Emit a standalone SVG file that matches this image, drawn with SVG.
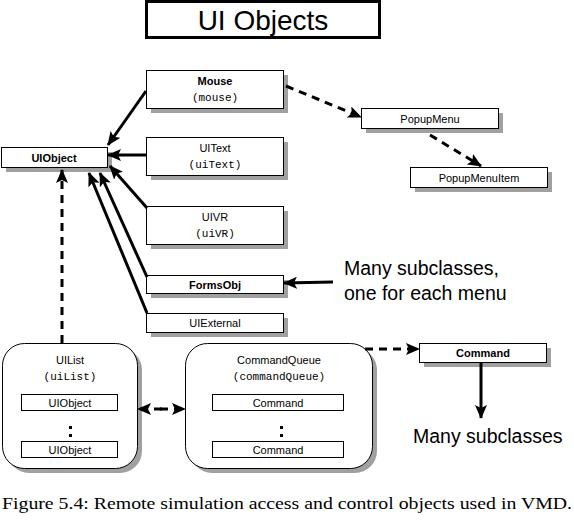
<svg xmlns="http://www.w3.org/2000/svg" width="574" height="520" viewBox="0 0 574 520">
<style>
.box{fill:#fff;stroke:#000;stroke-width:1}
.sh{fill:#a0a0a0}
.t{font-family:"Liberation Sans",Arial,sans-serif;font-size:11px;text-anchor:middle;fill:#000}
.b{font-weight:bold}
.m{font-family:"Liberation Mono","Courier New",monospace;font-size:11px;text-anchor:middle;fill:#000}
.big{font-family:"Liberation Sans",Arial,sans-serif;font-size:19.5px;fill:#000}
.ln{stroke:#000;stroke-width:3;fill:none}
.dl{stroke:#000;stroke-width:3;fill:none;stroke-dasharray:8,6}
</style>
<defs>
<marker id="ah" markerWidth="14" markerHeight="12" refX="13" refY="6" orient="auto" markerUnits="userSpaceOnUse">
<path d="M0,0 L14,6 L0,12 L3,6 z" fill="#000"/>
</marker>
</defs>
<rect x="0" y="0" width="574" height="520" fill="#fff"/>
<g id="title">
<rect x="146.5" y="1.5" width="233" height="36" fill="#fff" stroke="#000" stroke-width="3"/>
<text x="263" y="30" style="font-family:'Liberation Sans',Arial,sans-serif;font-size:28px;text-anchor:middle">UI Objects</text>
</g>
<g id="mouse">
<rect class="sh" x="151" y="75" width="137" height="38"/>
<rect class="box" x="146.5" y="70.5" width="137" height="38"/>
<text class="t b" x="215" y="85">Mouse</text>
<text class="m" x="215" y="101">(mouse)</text>
</g>
<g id="uiobject">
<rect class="sh" x="6" y="152" width="106" height="20"/>
<rect class="box" x="1.5" y="147.5" width="106" height="20"/>
<text class="t b" x="54" y="162">UIObject</text>
</g>
<g id="uitext">
<rect class="sh" x="151" y="142" width="137" height="38"/>
<rect class="box" x="146.5" y="137.5" width="137" height="38"/>
<text class="t" x="215" y="152">UIText</text>
<text class="m" x="215" y="168">(uiText)</text>
</g>
<g id="uivr">
<rect class="sh" x="151" y="211" width="137" height="38"/>
<rect class="box" x="146.5" y="206.5" width="137" height="38"/>
<text class="t" x="215" y="221">UIVR</text>
<text class="m" x="215" y="237">(uiVR)</text>
</g>
<g id="formsobj">
<rect class="sh" x="151" y="280" width="137" height="18"/>
<rect class="box" x="146.5" y="275.5" width="137" height="18"/>
<text class="t b" x="215" y="289">FormsObj</text>
</g>
<g id="uiexternal">
<rect class="sh" x="151" y="318" width="137" height="19"/>
<rect class="box" x="146.5" y="313.5" width="137" height="19"/>
<text class="t" x="215" y="327">UIExternal</text>
</g>
<g id="popupmenu">
<rect class="sh" x="366" y="113" width="137" height="20"/>
<rect class="box" x="361.5" y="108.5" width="137" height="20"/>
<text class="t" x="430" y="123">PopupMenu</text>
</g>
<g id="popupmenuitem">
<rect class="sh" x="415" y="172" width="137" height="20"/>
<rect class="box" x="410.5" y="167.5" width="137" height="20"/>
<text class="t" x="479" y="182">PopupMenuItem</text>
</g>
<g id="uilist">
<rect class="sh" x="7" y="348" width="135" height="125" rx="22" ry="22"/>
<rect class="box" x="2.5" y="343.5" width="135" height="125" rx="22" ry="22"/>
<text class="t" x="70" y="364">UIList</text>
<text class="m" x="70" y="380">(uiList)</text>
<rect class="box" x="21.5" y="394.5" width="96" height="16"/>
<text class="t" x="70" y="407">UIObject</text>
<rect x="69" y="426" width="3" height="3" fill="#000"/>
<rect x="69" y="434" width="3" height="3" fill="#000"/>
<rect class="box" x="21.5" y="441.5" width="96" height="16"/>
<text class="t" x="70" y="454">UIObject</text>
</g>
<g id="commandqueue">
<rect class="sh" x="190" y="348" width="187" height="125" rx="22" ry="22"/>
<rect class="box" x="185.5" y="343.5" width="187" height="125" rx="22" ry="22"/>
<text class="t" x="279" y="364">CommandQueue</text>
<text class="m" x="279" y="380">(commandQueue)</text>
<rect class="box" x="212.5" y="394.5" width="131" height="16"/>
<text class="t" x="278" y="407">Command</text>
<rect x="280" y="426" width="3" height="3" fill="#000"/>
<rect x="280" y="434" width="3" height="3" fill="#000"/>
<rect class="box" x="212.5" y="441.5" width="131" height="16"/>
<text class="t" x="278" y="454">Command</text>
</g>
<g id="command">
<rect class="sh" x="424" y="348" width="127" height="19"/>
<rect class="box" x="419.5" y="343.5" width="127" height="19"/>
<text class="t b" x="483" y="357">Command</text>
</g>
<g id="labels">
<text class="big" x="344" y="275">Many subclasses,</text>
<text class="big" x="344" y="300">one for each menu</text>
<text class="big" x="413" y="443">Many subclasses</text>
</g>
<g id="connectors">
<line class="ln" x1="146" y1="91" x2="108" y2="145" marker-end="url(#ah)"/>
<line class="ln" x1="146" y1="155" x2="108" y2="155" marker-end="url(#ah)"/>
<line class="ln" x1="147" y1="208" x2="110" y2="166" marker-end="url(#ah)"/>
<line class="ln" x1="147" y1="277" x2="100" y2="173" marker-end="url(#ah)"/>
<line class="ln" x1="147" y1="313" x2="89" y2="173" marker-end="url(#ah)"/>
<line class="dl" x1="62" y1="343" x2="62" y2="170" marker-end="url(#ah)"/>
<line class="dl" x1="286" y1="86" x2="361" y2="117" marker-end="url(#ah)"/>
<line class="dl" x1="430" y1="135" x2="481" y2="166" marker-end="url(#ah)"/>
<line class="ln" x1="333" y1="282" x2="284" y2="283" marker-end="url(#ah)"/>
<line class="dl" x1="162" y1="409" x2="138" y2="409" marker-end="url(#ah)"/>
<line class="dl" x1="160" y1="409" x2="185" y2="409" marker-end="url(#ah)"/>
<line class="dl" x1="365" y1="349" x2="419" y2="349" marker-end="url(#ah)"/>
<line class="ln" x1="481" y1="363" x2="481" y2="418" marker-end="url(#ah)"/>
</g>
<text x="2" y="509" textLength="570" lengthAdjust="spacingAndGlyphs" style="font-family:'Liberation Serif','Times New Roman',serif;font-size:16px">Figure 5.4: Remote simulation access and control objects used in VMD.</text>
</svg>
